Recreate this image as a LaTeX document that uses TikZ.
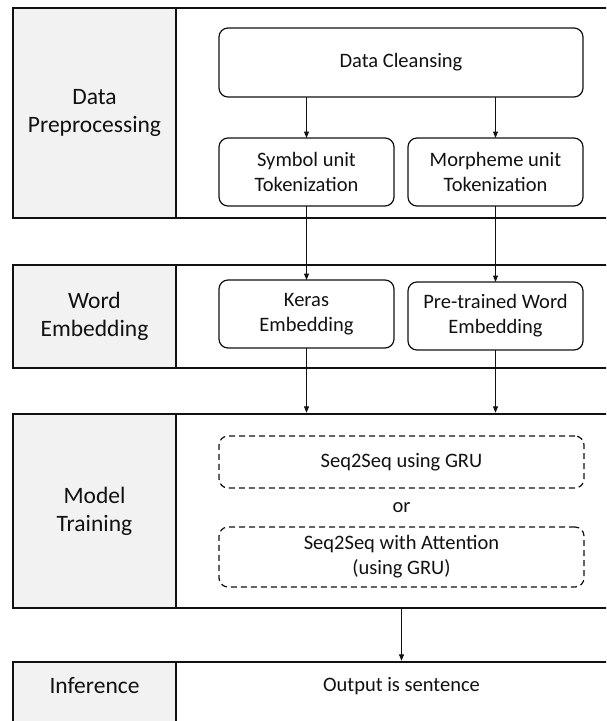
\documentclass[tikz,border=0pt]{standalone}
\usepackage{fontspec}
\setmainfont{Carlito}
\usetikzlibrary{arrows.meta}
\definecolor{cellgray}{HTML}{F2F2F2}
\definecolor{inkc}{HTML}{111111}
\begin{document}
\begin{tikzpicture}[x=1pt,y=-1pt,
  cellbox/.style={draw=inkc, line width=2.4pt, outer sep=0pt, inner sep=0pt, anchor=north west},
  labcell/.style={cellbox, fill=cellgray, align=center, text=inkc, font=\fontsize{23.5}{28}\selectfont},
  procbox/.style={draw=inkc, line width=1.2pt, rounded corners=9pt, align=center, inner sep=0pt, outer sep=0pt, text=inkc, font=\fontsize{20.5}{25}\selectfont},
  dashbox/.style={procbox, dash pattern=on 6pt off 4pt},
  flow/.style={draw=inkc, line width=1.1pt, -{Triangle[length=6.5pt,width=5pt]}},
  txt/.style={text=inkc, inner sep=0pt, font=\fontsize{20.5}{25}\selectfont},
  labtxt/.style={text=inkc, inner sep=0pt, font=\fontsize{23.5}{28}\selectfont}
]
\useasboundingbox (0,0) rectangle (606,721);
\clip (0,0) rectangle (606,721);
% bands
\node[cellbox, minimum width=470pt, minimum height=210pt] (band1) at (176,8) {};
\node[labcell, minimum width=163pt, minimum height=210pt] (lab1) at (13,8) {Data\\Preprocessing};
\node[cellbox, minimum width=470pt, minimum height=103pt] (band2) at (176,265) {};
\node[labcell, minimum width=163pt, minimum height=103pt] (lab2) at (13,265) {Word\\Embedding};
\node[cellbox, minimum width=470pt, minimum height=194pt] (band3) at (176,414) {};
\node[labcell, minimum width=163pt, minimum height=194pt] (lab3) at (13,414) {Model\\Training};
\node[cellbox, minimum width=470pt, minimum height=90pt] (band4) at (176,662) {};
\node[labcell, minimum width=163pt, minimum height=90pt] (lab4) at (13,662) {};
\node[labtxt] (inftxt) at (94.5,686) {Inference};
% boxes
\node[procbox, minimum width=364pt, minimum height=69pt] (clean) at (401,62.5) {Data Cleansing};
\node[procbox, minimum width=175pt, minimum height=68pt] (symb) at (306.5,172) {Symbol unit\\Tokenization};
\node[procbox, minimum width=175pt, minimum height=68pt] (morph) at (495.5,172) {Morpheme unit\\Tokenization};
\node[procbox, minimum width=175pt, minimum height=68pt] (keras) at (306.5,314) {Keras\\Embedding};
\node[procbox, minimum width=175pt, minimum height=68pt] (pretr) at (495.5,316) {Pre-trained Word\\Embedding};
\node[dashbox, minimum width=365pt, minimum height=52pt] (gru) at (401.5,462) {Seq2Seq using GRU};
\node[txt] (ortxt) at (401.5,508) {or};
\node[dashbox, minimum width=365pt, minimum height=60pt] (att) at (401.5,557) {Seq2Seq with Attention\\(using GRU)};
\node[txt] (outtxt) at (401.5,686) {Output is sentence};
% connectors
\draw[flow] (clean.south -| symb.north) -- (symb.north);
\draw[flow] (clean.south -| morph.north) -- (morph.north);
\draw[flow] (symb.south) -- (keras.north);
\draw[flow] (morph.south) -- (pretr.north);
\draw[flow] (keras.south) -- ([yshift=1.2pt]keras.south |- band3.north);
\draw[flow] (pretr.south) -- ([yshift=1.2pt]pretr.south |- band3.north);
\draw[flow] ([yshift=1.2pt]outtxt |- band3.south) -- ([yshift=1.2pt]outtxt |- band4.north);
\end{tikzpicture}
\end{document}
